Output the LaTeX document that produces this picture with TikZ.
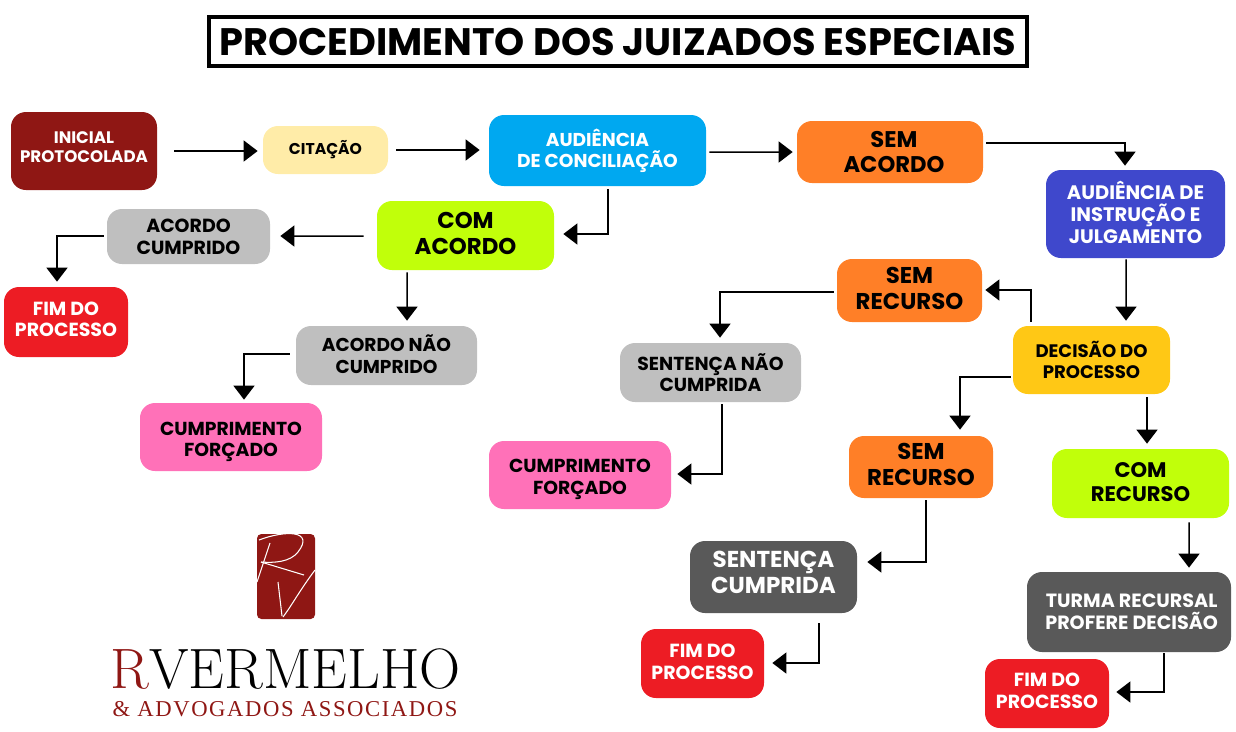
\documentclass[tikz,border=0pt]{standalone}
\usepackage{fontspec}
\setsansfont{Poppins}
\newfontfamily\fonteassociados[LetterSpace=7]{Liberation Serif}
\usetikzlibrary{arrows.meta}
\definecolor{vinho}{HTML}{8F1714}
\definecolor{creme}{HTML}{FFECA8}
\definecolor{azul}{HTML}{00A8F0}
\definecolor{laranja}{HTML}{FF7F27}
\definecolor{anil}{HTML}{3F48CC}
\definecolor{limao}{HTML}{C1FF0A}
\definecolor{cinza}{HTML}{BFBFBF}
\definecolor{vermelho}{HTML}{ED1C24}
\definecolor{rosa}{HTML}{FF71B8}
\definecolor{ouro}{HTML}{FFC815}
\definecolor{grafite}{HTML}{595959}
\tikzset{
  caixa/.style 2 args={rectangle,rounded corners=8.5pt,inner sep=0pt,align=center,
    minimum width=#1*0.02cm,minimum height=#2*0.02cm},
  texto/.style={font=\sffamily\bfseries\fontsize{#1}{\dimexpr#1pt*114/100\relax}\selectfont},
  sobe/.style={execute at end node={\rule[-#1pt]{0pt}{#1pt}}},
  desce/.style={execute at begin node={\rule{0pt}{#1pt}}},
  seta/.style={line width=0.85pt,-{Triangle[length=8pt,width=12pt]}},
}
\begin{document}
\begin{tikzpicture}[x=0.02cm,y=-0.02cm]
\useasboundingbox (0,0) rectangle (1236,731);
% titulo
\node (titulo) [draw,line width=2pt,minimum width=818*0.02cm,minimum height=49*0.02cm,inner sep=0pt,font=\sffamily\bfseries\fontsize{21.8}{26}\selectfont] at (618,41.5) {PROCEDIMENTO DOS JUIZADOS ESPECIAIS};
% caixas
\node (inicial) [caixa={146}{78},fill=vinho,text=white,texto=9.5,sobe=4] at (84,151) {INICIAL\\PROTOCOLADA};
\node (citacao) [caixa={125}{48},fill=creme,font=\sffamily\bfseries\fontsize{8.9}{11}\selectfont] at (325.5,150) {CITAÇÃO};
\node (audiencia) [caixa={217}{71},fill=azul,text=white,texto=10.6] at (597.5,150.5) {AUDIÊNCIA\\DE CONCILIAÇÃO};
\node (semacordo) [caixa={186}{62},fill=laranja,texto=12.9] at (890,152) {\hspace*{4.5pt}SEM\\\hspace*{4.5pt}ACORDO};
\node (instrucao) [caixa={179}{88},fill=anil,text=white,texto=11.1,sobe=2] at (1135.5,214) {AUDIÊNCIA DE\\INSTRUÇÃO E\\JULGAMENTO};
\node (comacordo) [caixa={177}{69},fill=limao,texto=13,sobe=2] at (465.5,235.5) {COM\\ACORDO};
\node (cumprido) [caixa={163}{55},fill=cinza,texto=10.8] at (188.5,236.5) {ACORDO\\CUMPRIDO};
\node (fimum) [caixa={124}{70},fill=vermelho,text=white,texto=10.8,sobe=3] at (66,322) {FIM DO\\PROCESSO};
\node (naocumprido) [caixa={181}{59},fill=cinza,texto=10.6,sobe=1.5] at (386.5,355.5) {ACORDO NÃO\\CUMPRIDO};
\node (forcadoum) [caixa={182}{68},fill=rosa,texto=10.7,desce=25.6] at (231,437) {CUMPRIMENTO\\FORÇADO};
\node (semrecursoum) [caixa={145}{63},fill=laranja,texto=13,sobe=2] at (909.5,290.5) {SEM\\RECURSO};
\node (decisao) [caixa={157}{68},fill=ouro,texto=10.3] at (1091.5,360) {DECISÃO DO\\PROCESSO};
\node (sentencanao) [caixa={181}{59},fill=cinza,texto=10.7] at (710.5,372.5) {SENTENÇA NÃO\\CUMPRIDA};
\node (forcadodois) [caixa={182}{68},fill=rosa,texto=10.7,desce=24.6] at (580,475) {CUMPRIMENTO\\FORÇADO};
\node (semrecursodois) [caixa={144}{62},fill=laranja,texto=13,sobe=3] at (921,467) {SEM\\RECURSO};
\node (comrecurso) [caixa={177}{69},fill=limao,texto=12,sobe=2] at (1140.5,483.5) {COM\\RECURSO};
\node (sentenca) [caixa={167}{72},fill=grafite,text=white,texto=13.1,sobe=5] at (773.5,577) {SENTENÇA\\CUMPRIDA};
\node (fimdois) [caixa={123}{69},fill=vermelho,text=white,texto=10.8,sobe=2] at (702.5,663.5) {FIM DO\\PROCESSO};
\node (turma) [caixa={204}{80},fill=grafite,text=white,texto=10.9] at (1129,612) {\hspace*{3pt}TURMA RECURSAL\\\hspace*{3pt}PROFERE DECISÃO};
\node (fimtres) [caixa={124}{69},fill=vermelho,text=white,texto=10.8,sobe=3] at (1047,693.5) {FIM DO\\PROCESSO};
% setas
\draw[seta] ([shift={(17,0)}]inicial.east) -- ([shift={(-5,1)}]citacao.west);
\draw[seta] ([shift={(8,0)}]citacao.east) -- ([shift={(-9,-0.5)}]audiencia.west);
\draw[seta] ([shift={(3,1.5)}]audiencia.east) -- ([shift={(-4,0)}]semacordo.west);
\draw[seta] ([shift={(3,-9)}]semacordo.east) -| ([shift={(-10.5,-4)}]instrucao.north);
\draw[seta] ([shift={(10.5,3)}]audiencia.south) |- ([shift={(9,-1.5)}]comacordo.east);
\draw[seta] ([shift={(-13,0.5)}]comacordo.west) -- ([shift={(10,-0.5)}]cumprido.east);
\draw[seta] ([shift={(-3,-0.5)}]cumprido.west) -| ([shift={(-9,-5)}]fimum.north);
\draw[seta] ([shift={(-58.5,2)}]comacordo.south) -- ([shift={(20.5,-5)}]naocumprido.north);
\draw[seta] ([shift={(-6,-1.5)}]naocumprido.west) -| ([shift={(13,-3)}]forcadoum.north);
\draw[seta] ([shift={(-9.5,1)}]instrucao.south) -- ([shift={(34.5,-5)}]decisao.north);
\draw[seta] ([shift={(-60.5,-4)}]decisao.north) |- ([shift={(3,-0.5)}]semrecursoum.east);
\draw[seta] ([shift={(-3,1.5)}]semrecursoum.west) -| ([shift={(9.5,-5)}]sentencanao.north);
\draw[seta] ([shift={(11.5,2)}]sentencanao.south) |- ([shift={(6,-1)}]forcadodois.east);
\draw[seta] ([shift={(-2,17)}]decisao.west) -| ([shift={(39,-6)}]semrecursodois.north);
\draw[seta] ([shift={(55.5,3)}]decisao.south) -- ([shift={(6.5,-5)}]comrecurso.north);
\draw[seta] ([shift={(5,2)}]semrecursodois.south) |- ([shift={(10,-15)}]sentenca.east);
\draw[seta] ([shift={(48.5,4)}]comrecurso.south) -- ([shift={(60,-4)}]turma.north);
\draw[seta] ([shift={(45.5,10)}]sentenca.south) |- ([shift={(8,-0.5)}]fimdois.east);
\draw[seta] ([shift={(35,1)}]turma.south) |- ([shift={(7,-1.5)}]fimtres.east);
% logo
\fill[vinho,rounded corners=2.5pt] (257,534) rectangle (315,619);
\begin{scope}[white,line width=0.6pt]
\draw (270,543) -- (257,582);
\draw (259,540) .. controls (285,530) and (315,530) .. (298,552) .. controls (290,562) and (275,563) .. (261,562);
\draw (261,562) -- (304,575);
\draw (278,582) -- (282,616);
\draw (315,570) .. controls (300,590) and (292,605) .. (283,617);
\end{scope}
\node (marca) [font=\fontsize{32.4}{36}\selectfont,inner sep=0pt,anchor=base] at (285.5,688) {\textcolor{vinho}{R}VERMELHO};
\node (escritorio) [text=vinho,font=\fontsize{12.9}{15}\selectfont\fonteassociados,inner sep=0pt,anchor=base] at (285,716) {\& ADVOGADOS ASSOCIADOS};
\end{tikzpicture}
\end{document}
